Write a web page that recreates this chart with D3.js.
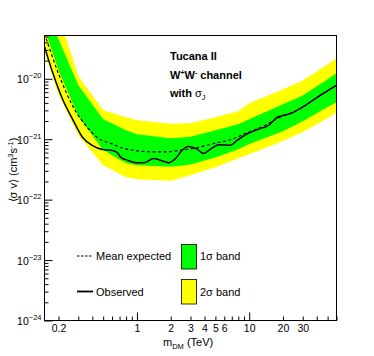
<!DOCTYPE html>
<html>
<head>
<meta charset="utf-8">
<script src="https://cdn.jsdelivr.net/npm/d3@7"></script>
<style>
  body { margin: 0; background: #fff; }
  text { font-family: "Liberation Sans", Arial, Helvetica, sans-serif; }
</style>
</head>
<body>
<svg id="chart"></svg>
<script>
// Values (mass in TeV, <sigma v> in cm^3 s^-1)
let bandMass   = [0.15, 0.2, 0.3, 0.5, 0.8, 1, 2, 3, 5, 8, 10, 20, 30, 50, 60];
let yellowHigh = [6.2e-19, 1.16e-19, 1.10e-20, 3.0e-21, 2.31e-21, 2.06e-21, 1.80e-21, 1.84e-21, 2.31e-21, 2.9e-21, 3.94e-21, 6.7e-21, 9.4e-21, 1.74e-20, 2.18e-20];
let greenHigh  = [1.7e-19, 4.5e-20, 7.8e-21, 2.14e-21, 1.41e-21, 1.21e-21, 1.04e-21, 1.10e-21, 1.41e-21, 1.77e-21, 2.14e-21, 3.79e-21, 5.3e-21, 9.8e-21, 1.23e-20];
let greenLow   = [6.8e-20, 1.38e-20, 2.40e-21, 6.6e-22, 4.0e-22, 3.7e-22, 3.5e-22, 3.8e-22, 5.0e-22, 6.8e-22, 8.3e-22, 1.36e-21, 1.98e-21, 3.4e-21, 4.1e-21];
let yellowLow  = [2.74e-20, 5.5e-21, 1.16e-21, 3.7e-22, 2.35e-22, 2.18e-22, 2.06e-22, 2.54e-22, 3.44e-22, 4.85e-22, 5.65e-22, 9.3e-22, 1.31e-21, 2.22e-21, 2.8e-21];

let expMass  = [0.15, 0.203, 0.266, 0.350, 0.461, 0.605, 0.714, 0.932, 1.40, 1.86, 2.44, 3.19, 4.84, 6.82, 9.87, 13.4, 19.0, 26.8, 35.2, 46.0, 60.0];
let expValue = [5.65e-20, 1.13e-20, 3.61e-21, 1.68e-21, 1.01e-21, 8.36e-22, 7.29e-22, 6.58e-22, 6.17e-22, 6.17e-22, 6.58e-22, 7.02e-22, 8.49e-22, 9.81e-22, 1.31e-21, 1.64e-21, 2.34e-21, 3.02e-21, 4.14e-21, 5.76e-21, 7.81e-21];

let obsMass  = [0.15, 0.177, 0.217, 0.266, 0.327, 0.402, 0.493, 0.605, 0.671, 0.714, 0.824, 1.01, 1.19, 1.40, 1.62, 1.91, 2.21, 2.53, 2.88, 3.44, 3.92, 4.52, 5.33, 6.82, 7.83, 9.61, 12.1, 14.9, 17.8, 20.4, 23.4, 26.8, 35.2, 46.0, 60.0];
let obsValue = [3.4e-20, 1.28e-20, 4.63e-21, 2.17e-21, 1.08e-21, 7.86e-22, 6.76e-22, 6.50e-22, 5.98e-22, 5.04e-22, 4.49e-22, 4.06e-22, 4.12e-22, 4.80e-22, 4.49e-22, 4.09e-22, 4.80e-22, 6.58e-22, 7.57e-22, 6.83e-22, 5.80e-22, 6.83e-22, 8.11e-22, 7.96e-22, 9.62e-22, 1.23e-21, 1.46e-21, 1.70e-21, 2.31e-21, 2.49e-21, 2.66e-21, 3.02e-21, 4.14e-21, 5.76e-21, 7.81e-21];

let xDomain = [0.15, 60];
let yDomain = [1e-24, 5.2e-20];
let xLabels = [0.2, 1, 2, 3, 4, 5, 6, 10, 20, 30];
let yDecades = [-24, -23, -22, -21, -20];

// Layout
let c = {
    svg: { width: 374, height: 356 },
    plot: { left: 44.5, right: 336.5, top: 35.5, bottom: 320.5 },
    tickFont: 10.5,
    font: 11
};

let svg = d3.select('#chart')
    .attr('width', c.svg.width)
    .attr('height', c.svg.height);

let x = d3.scaleLog().domain(xDomain).range([c.plot.left, c.plot.right]);
let y = d3.scaleLog().domain(yDomain).range([c.plot.bottom, c.plot.top]);

svg.append('clipPath').attr('id', 'clip')
    .append('rect')
    .attr('x', c.plot.left)
    .attr('y', c.plot.top)
    .attr('width', c.plot.right - c.plot.left)
    .attr('height', c.plot.bottom - c.plot.top);

let plot = svg.append('g').attr('clip-path', 'url(#clip)');

// bands
function band(lo, hi) {
    return d3.area()
        .x((d, i) => x(bandMass[i]))
        .y0((d, i) => y(lo[i]))
        .y1((d, i) => y(hi[i]));
}
plot.append('path').datum(bandMass)
    .attr('d', band(yellowLow, yellowHigh))
    .attr('fill', '#ffff00');
plot.append('path').datum(bandMass)
    .attr('d', band(greenLow, greenHigh))
    .attr('fill', '#00ff00');

// curves
let line = d3.line()
    .x(d => x(d[0]))
    .y(d => y(d[1]))
    .curve(d3.curveMonotoneX);

plot.append('path').datum(d3.zip(expMass, expValue))
    .attr('d', line)
    .attr('fill', 'none')
    .attr('stroke', '#000')
    .attr('stroke-width', 1.2)
    .attr('stroke-dasharray', '3,2.5');

plot.append('path').datum(d3.zip(obsMass, obsValue))
    .attr('d', line)
    .attr('fill', 'none')
    .attr('stroke', '#000')
    .attr('stroke-width', 1.5);

// x axis: log minor ticks, labels on a few
let xTicks = [];
for (let dec of [0.1, 1, 10]) {
    for (let k = 1; k < 10; k++) {
        let v = k * dec;
        if (v >= xDomain[0] && v <= xDomain[1]) xTicks.push(v);
    }
}
let same = (a, b) => Math.abs(Math.log10(a) - Math.log10(b)) < 1e-6;

let xAxis = svg.append('g')
    .attr('transform', translate(0, c.plot.bottom))
    .call(d3.axisBottom(x)
        .tickValues(xTicks)
        .tickSizeInner(-4)
        .tickSizeOuter(0)
        .tickPadding(4)
        .tickFormat(d => xLabels.some(l => same(l, d)) ? d3.format('~g')(d) : ''));
xAxis.select('.domain').remove();
xAxis.selectAll('.tick line')
    .attr('y2', d => (same(d, 1) || same(d, 10)) ? -8 : -4);
xAxis.attr('font-size', c.tickFont).attr('font-family', null);

// y axis
let yTicks = [];
for (let e = -24; e <= -20; e++) {
    for (let k = 1; k < 10; k++) {
        let v = k * Math.pow(10, e);
        if (v >= yDomain[0] * 0.999 && v <= yDomain[1]) yTicks.push(v);
    }
}
let yAxis = svg.append('g')
    .attr('transform', translate(c.plot.left, 0))
    .call(d3.axisLeft(y)
        .tickValues(yTicks)
        .tickSizeInner(-4)
        .tickSizeOuter(0)
        .tickPadding(3)
        .tickFormat(''));
yAxis.select('.domain').remove();
yAxis.attr('font-size', c.tickFont).attr('font-family', null);
yAxis.selectAll('.tick line')
    .attr('x2', d => yDecades.some(e => same(d, Math.pow(10, e))) ? 8 : 4);
yAxis.selectAll('.tick text').each(function (d) {
    let e = yDecades.find(e => same(d, Math.pow(10, e)));
    if (e === undefined) return;
    let t = d3.select(this).attr('dy', '0.4em');
    t.append('tspan').text('10');
    t.append('tspan').attr('dy', -5).attr('font-size', 7.5).text('\u2212' + Math.abs(e));
});

// frame
svg.append('rect')
    .attr('x', c.plot.left)
    .attr('y', c.plot.top)
    .attr('width', c.plot.right - c.plot.left)
    .attr('height', c.plot.bottom - c.plot.top)
    .attr('fill', 'none')
    .attr('stroke', '#000')
    .attr('stroke-width', 1);

// axis titles
let xt = svg.append('text')
    .attr('x', 163).attr('y', 346)
    .attr('font-size', c.font);
xt.append('tspan').text('m');
xt.append('tspan').attr('dy', 3).attr('font-size', 7.5).text('DM');
xt.append('tspan').attr('dy', -3).text(' (TeV)');

let yt = svg.append('text')
    .attr('transform', translate(17, 170) + ' rotate(-90)')
    .attr('text-anchor', 'middle')
    .attr('font-size', c.font);
yt.append('tspan').text('\u27e8\u03c3 v\u27e9 (cm');
yt.append('tspan').attr('dy', -4).attr('font-size', 7.5).text('3');
yt.append('tspan').attr('dy', 4).text('s');
yt.append('tspan').attr('dy', -4).attr('font-size', 7.5).text('-1');
yt.append('tspan').attr('dy', 4).text(')');

// header text
let head = svg.append('g').attr('font-size', c.font).attr('font-weight', 'bold');
head.append('text').attr('x', 170).attr('y', 60).text('Tucana II');
let h2 = head.append('text').attr('x', 170).attr('y', 78.5);
h2.append('tspan').text('W');
h2.append('tspan').attr('dy', -4).attr('font-size', 7).text('+');
h2.append('tspan').attr('dy', 4).text('W');
h2.append('tspan').attr('dy', -4).attr('font-size', 7).text('-');
h2.append('tspan').attr('dy', 4).text(' channel');
let h3 = head.append('text').attr('x', 170).attr('y', 96.5);
h3.append('tspan').text('with ');
h3.append('tspan').attr('font-weight', 'normal').text('\u03c3');
h3.append('tspan').attr('dy', 3).attr('font-size', 7.5).attr('font-weight', 'normal').text('J');

// legend
let legend = svg.append('g').attr('font-size', c.font);
legend.append('line')
    .attr('x1', 77).attr('x2', 93).attr('y1', 256).attr('y2', 256)
    .attr('stroke', '#000').attr('stroke-width', 1.2).attr('stroke-dasharray', '2.5,1.5');
legend.append('text').attr('x', 96).attr('y', 260).text('Mean expected');
legend.append('line')
    .attr('x1', 77).attr('x2', 93).attr('y1', 291.5).attr('y2', 291.5)
    .attr('stroke', '#000').attr('stroke-width', 1.8);
legend.append('text').attr('x', 96).attr('y', 295.5).text('Observed');

legend.append('rect')
    .attr('x', 181.5).attr('y', 244.5).attr('width', 15).attr('height', 24.5)
    .attr('fill', '#00ff00').attr('stroke', '#000').attr('stroke-width', 0.8);
legend.append('text').attr('x', 200).attr('y', 260).text('1\u03c3 band');
legend.append('rect')
    .attr('x', 181.5).attr('y', 279.5).attr('width', 15).attr('height', 24.5)
    .attr('fill', '#ffff00').attr('stroke', '#000').attr('stroke-width', 0.8);
legend.append('text').attr('x', 200).attr('y', 295.5).text('2\u03c3 band');

function translate(x, y) {
    return 'translate(' + x + ',' + y + ')';
}
</script>
</body>
</html>
